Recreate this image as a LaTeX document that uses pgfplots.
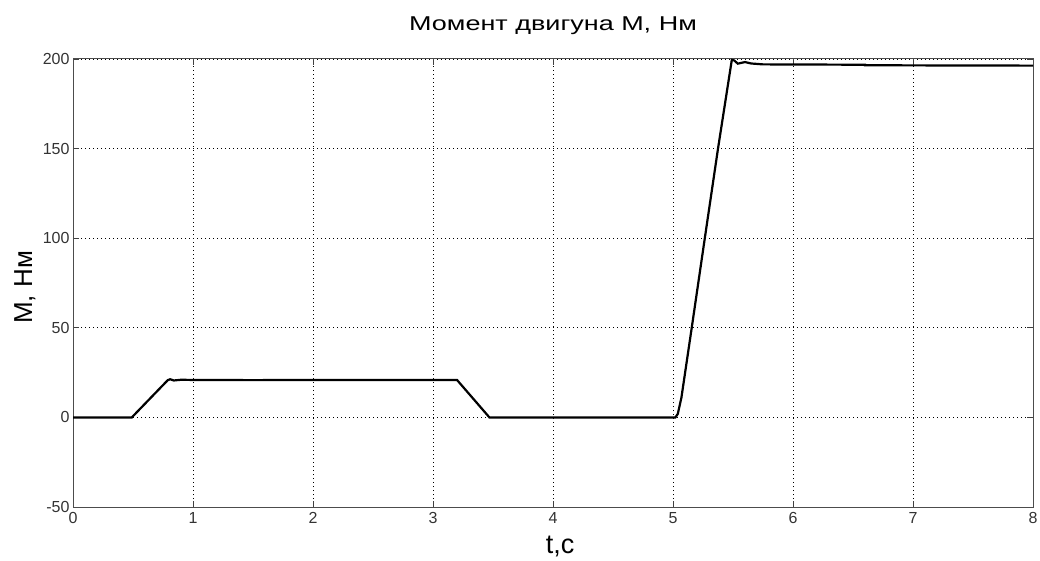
\documentclass[border=0pt]{standalone}
\usepackage{fontspec}
\setmainfont{Liberation Sans}
\newfontfamily\titlefont[FakeStretch=1.35]{Liberation Sans}
\usepackage{pgfplots}
\pgfplotsset{compat=1.18}
\begin{document}
\begin{tikzpicture}[x=1pt,y=1pt]
\path[use as bounding box] (-73,-53) rectangle (967,507);
\begin{axis}[
  at={(0,0)}, anchor=south west,
  scale only axis, width=960pt, height=448pt,
  xmin=0, xmax=8, ymin=-50, ymax=200,
  xtick={0,1,...,8}, ytick={-50,0,50,100,150,200},
  /pgf/number format/assume math mode=true,
  tick label style={font=\fontsize{16}{16}\selectfont, text=black!80},
  xticklabel style={yshift=-2pt},
  tick align=inside, major tick length=6pt,
  tick style={black!75, line width=0.8pt},
  axis line style={black!70, line width=1pt},
  grid=major,
  major grid style={black, line width=0.8pt, dash pattern=on 1pt off 3pt},
  title={\titlefont Момент двигуна М, Нм},
  title style={font=\fontsize{20}{20}\selectfont, at={(axis description cs:0.5,1)}, anchor=base, yshift=22pt},
  xlabel={t,c},
  xlabel style={font=\fontsize{27}{27}\selectfont, at={(axis description cs:0.5073,0)}, anchor=base, yshift=-46pt},
  ylabel={M, Нм},
  ylabel style={font=\fontsize{26}{26}\selectfont, at={(axis description cs:-0.0427,0.49)}, anchor=base},
]
\addplot[black, line width=2.2pt] coordinates {
(0,0) (0.49,0) (0.79,20.8) (0.81,21.3) (0.84,20.6) (0.9,21.0) (1.0,20.9) (1.5,20.8) (2,20.9) (3.2,20.9) (3.47,0) (5.02,0) (5.04,2) (5.07,11) (5.156,50) (5.265,100) (5.375,150) (5.49,199.5) (5.51,199.2) (5.54,197.4) (5.6,198.3) (5.65,197.5) (5.75,197) (6.6,196.8) (6.6,196.5) (8,196.3)
};
\end{axis}
\end{tikzpicture}
\end{document}
